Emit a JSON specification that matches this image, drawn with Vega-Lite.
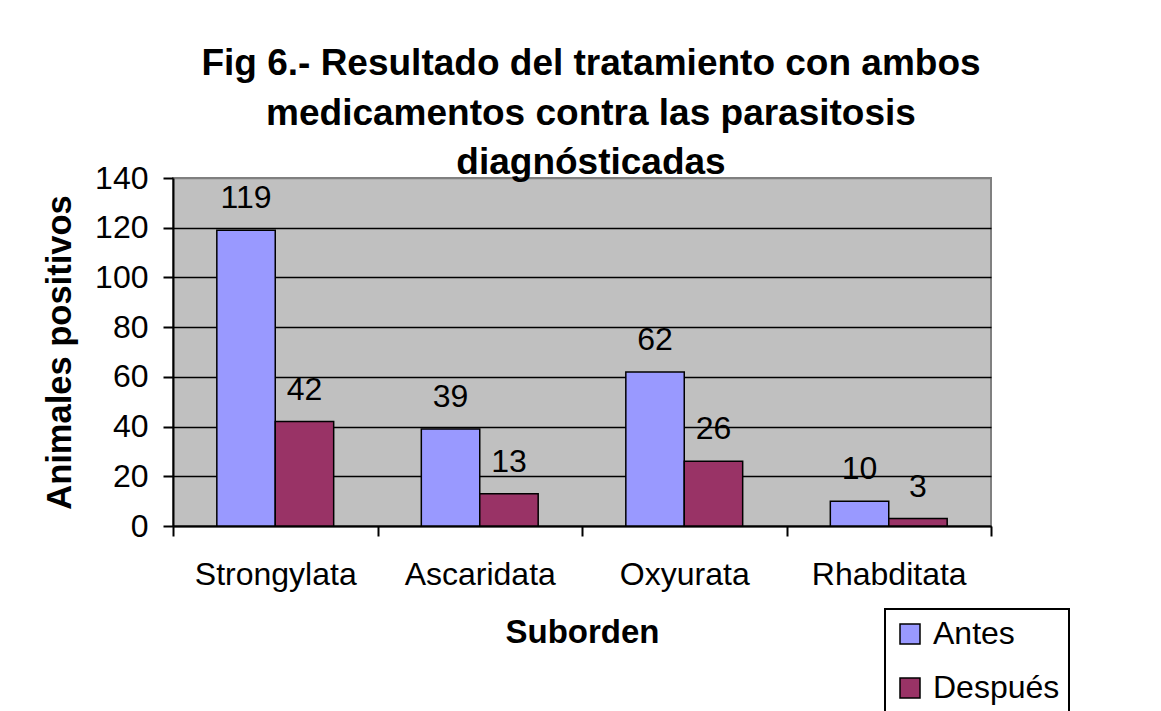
{
  "$schema": "https://vega.github.io/schema/vega-lite/v6.json",
  "width": 818,
  "height": 348,
  "autosize": {"type": "none"},
  "padding": {"left": 173, "top": 178, "right": 170, "bottom": 185},
  "background": "white",
  "title": {
    "text": ["Fig 6.- Resultado del tratamiento con ambos", "medicamentos contra las parasitosis", "diagnósticadas"],
    "font": "Liberation Sans",
    "fontSize": 37,
    "fontWeight": "bold",
    "lineHeight": 49.5,
    "anchor": "middle",
    "color": "black",
    "dx": 9,
    "offset": -20
  },
  "data": {
    "values": [
      {"suborden": "Strongylata", "momento": "Antes", "n": 119},
      {"suborden": "Strongylata", "momento": "Después", "n": 42},
      {"suborden": "Ascaridata", "momento": "Antes", "n": 39},
      {"suborden": "Ascaridata", "momento": "Después", "n": 13},
      {"suborden": "Oxyurata", "momento": "Antes", "n": 62},
      {"suborden": "Oxyurata", "momento": "Después", "n": 26},
      {"suborden": "Rhabditata", "momento": "Antes", "n": 10},
      {"suborden": "Rhabditata", "momento": "Después", "n": 3}
    ]
  },
  "encoding": {
    "x": {
      "field": "suborden",
      "type": "nominal",
      "sort": ["Strongylata", "Ascaridata", "Oxyurata", "Rhabditata"],
      "scale": {"paddingInner": 0, "paddingOuter": 0},
      "title": "Suborden",
      "axis": {
        "labelAngle": 0,
        "tickBand": "extent",
        "tickSize": 10,
        "tickWidth": 2,
        "tickColor": "black",
        "domainColor": "black",
        "domainWidth": 2,
        "labelFont": "Liberation Sans",
        "labelFontSize": 32,
        "labelColor": "black",
        "labelPadding": 23,
        "titleFont": "Liberation Sans",
        "titleFontSize": 33,
        "titleFontWeight": "bold",
        "titleColor": "black",
        "titlePadding": 26,
        "grid": false
      }
    },
    "xOffset": {
      "field": "momento",
      "type": "nominal",
      "sort": ["Antes", "Después"],
      "scale": {"paddingInner": 0, "paddingOuter": 0.75}
    },
    "y": {
      "field": "n",
      "type": "quantitative",
      "scale": {"domain": [0, 140], "nice": false},
      "title": "Animales positivos",
      "axis": {
        "values": [0, 20, 40, 60, 80, 100, 120, 140],
        "tickSize": 10,
        "tickWidth": 2,
        "tickColor": "black",
        "domainColor": "black",
        "domainWidth": 2,
        "labelFont": "Liberation Sans",
        "labelFontSize": 32,
        "labelColor": "black",
        "labelPadding": 15,
        "grid": true,
        "gridColor": {"condition": {"test": "datum.value == 140", "value": "#808080"}, "value": "black"},
        "gridWidth": 1.5,
        "titleFont": "Liberation Sans",
        "titleFontSize": 34.5,
        "titleFontWeight": "bold",
        "titleColor": "black",
        "titlePadding": 17
      }
    }
  },
  "layer": [
    {
      "mark": {"type": "bar", "stroke": "black", "strokeWidth": 1.5},
      "encoding": {
        "fill": {
          "field": "momento",
          "type": "nominal",
          "scale": {"domain": ["Antes", "Después"], "range": ["#9999FF", "#993366"]},
          "legend": {
            "orient": "none",
            "legendX": 712,
            "legendY": 431,
            "title": null,
            "strokeColor": "black",
            "padding": 9,
            "symbolType": "square",
            "symbolSize": 400,
            "symbolStrokeColor": "black",
            "symbolStrokeWidth": 1.5,
            "labelFont": "Liberation Sans",
            "labelFontSize": 32,
            "labelColor": "black",
            "labelOffset": 7,
            "rowPadding": 22
          }
        }
      }
    },
    {
      "mark": {"type": "text", "dy": -22, "baseline": "alphabetic", "font": "Liberation Sans", "fontSize": 32, "color": "black"},
      "encoding": {"text": {"field": "n", "type": "quantitative"}}
    }
  ],
  "config": {
    "view": {"fill": "#C0C0C0", "stroke": "#808080", "strokeWidth": 2},
    "legend": {"strokeWidth": 2}
  }
}
